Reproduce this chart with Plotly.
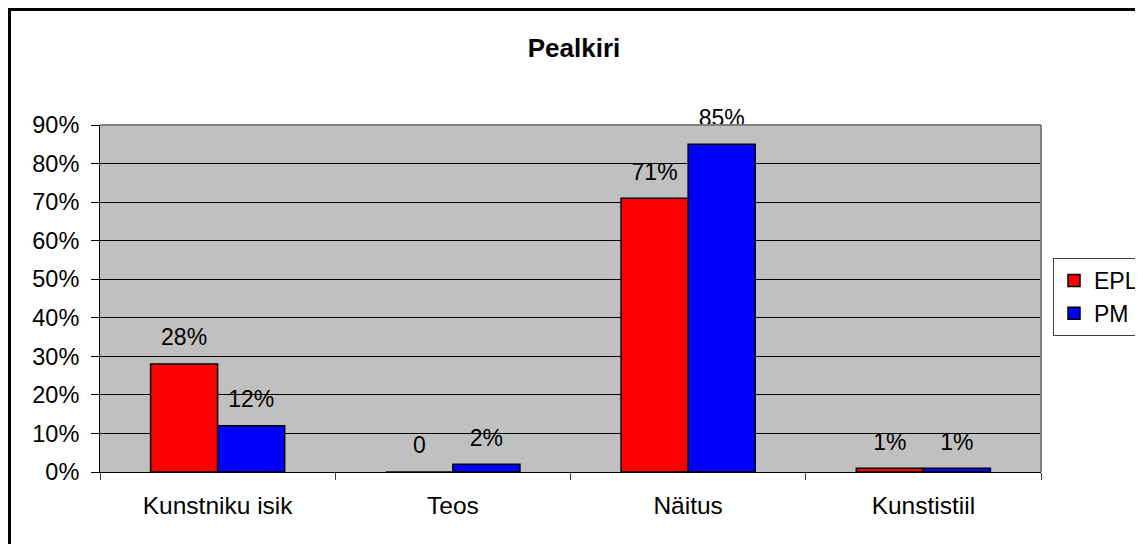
import plotly.graph_objects as go

# chart data
categories = ["Kunstniku isik", "Teos", "Näitus", "Kunstistiil"]
epl_values = [0.28, 0.0, 0.71, 0.01]
pm_values = [0.12, 0.02, 0.85, 0.01]
epl_labels = ["28%", "0", "71%", "1%"]
pm_labels = ["12%", "2%", "85%", "1%"]
y_ticks = [0, 0.1, 0.2, 0.3, 0.4, 0.5, 0.6, 0.7, 0.8, 0.9]

FONT = "Liberation Sans, Arial, sans-serif"
W, H = 1143, 544
OFF = 8  # the page body adds an 8px margin around the figure
# plot area in page pixels
P_L, P_R, P_T, P_B = 100, 1041, 125, 472
M_L = P_L - OFF
M_T = P_T - OFF
plot_w = P_R - P_L
plot_h = P_B - P_T
M_R = W - M_L - plot_w
M_B = H - M_T - plot_h


def px_x(p):
    return (p - P_L) / plot_w


def px_y(p):
    return (P_B - p) / plot_h


series = [
    ("EPL", epl_values, epl_labels, "#FF0000"),
    ("PM", pm_values, pm_labels, "#0000FF"),
]

fig = go.Figure()
for name, vals, labels, color in series:
    fig.add_trace(go.Bar(
        x=categories, y=vals, name=name,
        offsetgroup=name, alignmentgroup="g",
        marker=dict(color=color, line=dict(color="black", width=1.5)),
        hoverinfo="skip",
    ))
# value labels, floated above the bars like Excel does
for name, vals, labels, color in series:
    fig.add_trace(go.Scatter(
        x=categories, y=vals, text=labels, mode="markers+text",
        offsetgroup=name, alignmentgroup="g",
        textposition="top center",
        marker=dict(size=19, opacity=0),
        textfont=dict(family=FONT, size=23, color="black"),
        showlegend=False, hoverinfo="skip", cliponaxis=False,
    ))

fig.update_layout(
    width=W, height=H,
    margin=dict(l=M_L, r=M_R, t=M_T, b=M_B, autoexpand=False),
    paper_bgcolor="white", plot_bgcolor="#C0C0C0",
    barmode="group", bargap=0.43, bargroupgap=0,
    scattermode="group", scattergap=0.43,
    font=dict(family=FONT, color="black"),
    title=dict(text="<b>Pealkiri</b>", x=(574 - OFF) / W, xanchor="center",
               y=1 - (48 - OFF) / H, yanchor="middle",
               font=dict(family=FONT, size=26, color="black")),
    legend=dict(x=px_x(1053), y=px_y(258), xanchor="left", yanchor="top",
                bgcolor="white", bordercolor="#404040", borderwidth=1,
                font=dict(family=FONT, size=23, color="black"),
                itemwidth=30, tracegroupgap=0),
    showlegend=True,
)
fig.update_xaxes(
    type="category", tickson="boundaries", ticks="outside", ticklen=7,
    tickcolor="#404040", showline=True, linecolor="black", linewidth=1,
    showgrid=False, tickfont=dict(family=FONT, size=24.5, color="black"),
    ticklabelstandoff=12,
)
fig.update_yaxes(
    range=[0, 0.9], tickvals=y_ticks, tickformat=".0%",
    ticks="outside", ticklen=8, tickcolor="black",
    showline=True, linecolor="black", linewidth=1,
    showgrid=True, gridcolor="black", gridwidth=1, zeroline=False,
    tickfont=dict(family=FONT, size=23.5, color="black"),
    ticklabelstandoff=7,
)
# gray plot-area border (top and right)
fig.add_shape(type="line", xref="paper", yref="paper", x0=0, x1=1, y0=1, y1=1,
              line=dict(color="#808080", width=2))
fig.add_shape(type="line", xref="paper", yref="paper", x0=1, x1=1, y0=0, y1=1,
              line=dict(color="#808080", width=2))
# black frame around the chart (right and bottom edges fall outside the picture)
fig.add_shape(type="rect", xref="paper", yref="paper",
              x0=px_x(OFF + 1.5), x1=px_x(W + 30), y0=px_y(H + 30), y1=px_y(OFF + 1.5),
              line=dict(color="black", width=3), layer="above")

fig.write_html("out.html")
